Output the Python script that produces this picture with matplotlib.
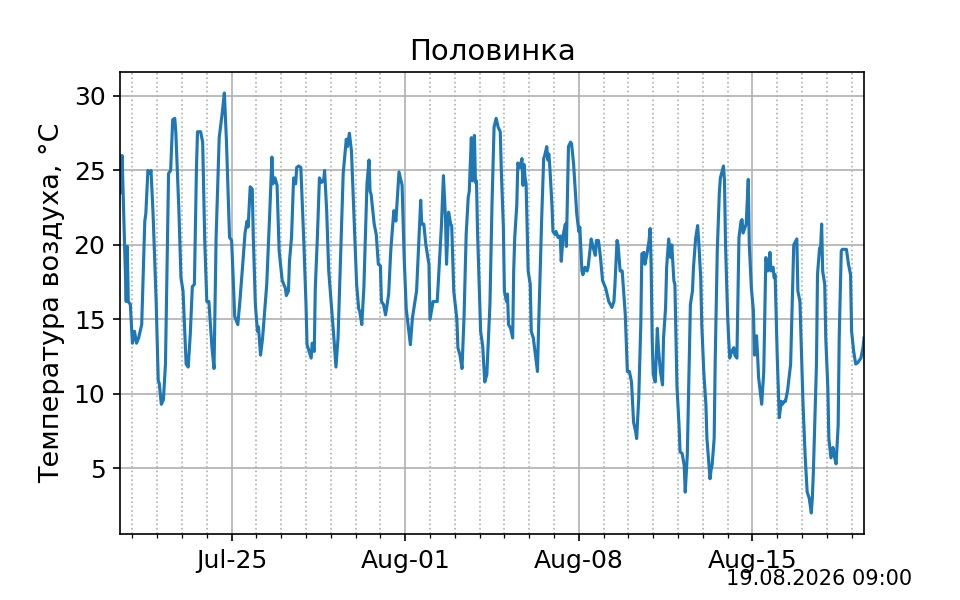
import numpy as np
import pandas as pd
import matplotlib
matplotlib.use('Agg')
import matplotlib.pyplot as plt
import matplotlib.dates as mdates

start = pd.Timestamp('2026-07-20 12:00')

# hours since start and air temperature in four chunks
hours_1 = [0, 2, 6, 7, 8, 10, 12, 14, 16, 18,
           21, 24, 25, 27, 29, 30, 32, 35, 37, 38,
           40, 42, 44, 47, 49, 51, 53, 54, 57, 59,
           61, 64, 66, 68, 70, 72, 74, 75, 78, 80,
           82, 84, 86, 89, 91, 93, 96, 99, 101, 103,
           106, 108, 109, 111, 114, 116, 119, 121, 123, 124,
           126, 128, 129, 131, 133, 134, 136, 138, 142, 145,
           147, 148, 150, 152, 154, 157, 160, 161, 163, 164,
           166, 168, 170, 171, 173, 175]
temp_1 = [23.5, 26.0, 16.2, 19.9, 16.2, 16.0, 13.4, 14.2, 13.4, 13.75,
          14.65, 21.6, 22.1, 25.0, 24.8, 25.0, 22.1, 16.2, 10.9, 10.7,
          9.3, 9.6, 12.0, 24.8, 25.0, 28.4, 28.5, 27.6, 22.3, 17.8,
          16.9, 12.0, 11.8, 14.0, 17.2, 17.35, 25.2, 27.6, 27.6, 26.9,
          20.3, 16.2, 16.2, 13.1, 11.7, 20.5, 27.2, 28.9, 30.2, 27.0,
          20.5, 20.3, 18.7, 15.2, 14.65, 16.2, 18.9, 20.8, 21.6, 21.2,
          23.9, 23.75, 20.5, 16.0, 14.2, 14.5, 12.6, 13.75, 17.35, 22.3,
          25.9, 24.1, 24.5, 24.0, 19.6, 17.6, 17.1, 16.6, 16.9, 18.9,
          20.5, 24.5, 24.1, 25.2, 25.3, 25.2]

hours_2 = [178, 180, 181, 183, 185, 186, 188, 189, 191, 193,
           195, 197, 198, 200, 202, 204, 207, 209, 211, 214,
           216, 219, 220, 222, 224, 227, 229, 231, 232, 234,
           236, 239, 241, 242, 243, 246, 248, 250, 252, 253,
           255, 257, 260, 262, 265, 267, 269, 270, 273, 275,
           277, 278, 281, 283, 285, 287, 289, 291, 292, 294,
           296, 299, 300, 303, 304, 307, 309, 311, 313, 315,
           316, 318, 320, 321, 323, 326, 327, 329, 331, 333,
           335, 337, 338, 340, 341, 343, 344, 345, 346, 349,
           351, 353, 355, 358, 360, 362, 364, 366]
temp_2 = [20.0, 16.0, 13.3, 12.85, 12.4, 13.4, 12.85, 17.1, 20.5, 24.5,
          24.2, 24.3, 25.0, 22.3, 18.25, 16.45, 13.75, 11.8, 13.75, 20.5,
          24.8, 27.1, 26.6, 27.5, 26.3, 20.9, 17.35, 15.7, 15.55, 14.65,
          17.1, 24.1, 25.7, 23.6, 23.4, 21.4, 20.7, 18.7, 18.6, 16.2,
          16.0, 15.3, 16.7, 19.6, 22.3, 21.6, 23.75, 24.9, 24.0, 19.15,
          15.7, 15.1, 13.3, 15.1, 16.0, 16.9, 20.0, 23.0, 21.4, 21.4,
          20.0, 18.7, 15.0, 16.2, 16.2, 16.2, 18.7, 21.2, 24.65, 21.8,
          18.7, 22.2, 21.4, 21.3, 16.9, 15.0, 13.1, 12.6, 11.7, 15.3,
          20.7, 23.2, 23.6, 27.2, 24.3, 27.35, 24.2, 24.3, 20.9, 14.2,
          13.2, 10.8, 11.3, 16.0, 22.7, 27.9, 28.5, 27.9]

hours_3 = [368, 369, 371, 372, 374, 375, 376, 378, 380, 381,
           382, 384, 385, 387, 389, 390, 391, 392, 393, 395,
           397, 398, 400, 402, 404, 405, 408, 410, 411, 413,
           414, 415, 416, 418, 419, 421, 422, 424, 426, 427,
           429, 431, 432, 434, 436, 437, 439, 442, 444, 445,
           447, 448, 450, 452, 453, 456, 458, 460, 461, 463,
           465, 467, 470, 473, 476, 478, 479, 481, 482, 484,
           486, 489, 491, 493, 495, 497, 499, 500, 502, 504,
           505, 507, 508, 510, 512, 513, 514, 515, 516, 518,
           520, 521, 523, 525, 526, 528, 529, 531, 533, 534,
           536, 537, 539]
temp_3 = [27.6, 25.0, 21.2, 16.9, 16.2, 16.7, 14.65, 14.4, 13.75, 18.25,
          20.5, 22.7, 25.5, 25.2, 25.8, 24.0, 25.4, 24.5, 24.1, 18.25,
          17.35, 14.2, 13.75, 12.6, 11.5, 14.2, 21.6, 25.8, 26.0, 26.6,
          25.7, 26.1, 25.2, 22.7, 20.9, 20.7, 20.9, 20.5, 20.6, 18.9,
          20.7, 21.4, 19.9, 26.6, 26.9, 26.8, 25.4, 22.1, 20.9, 21.2,
          18.25, 18.0, 18.5, 18.25, 18.5, 20.4, 19.8, 19.3, 20.3, 20.3,
          19.15, 17.6, 17.1, 16.2, 15.8, 16.2, 17.35, 20.3, 20.0, 18.25,
          18.25, 15.3, 11.5, 11.5, 10.8, 8.1, 7.46, 7.0, 9.7, 14.65,
          19.4, 19.5, 18.7, 19.4, 20.3, 21.1, 18.7, 13.75, 11.3, 10.8,
          14.4, 13.1, 11.5, 10.6, 13.75, 15.8, 18.5, 20.4, 19.15, 20.0,
          17.6, 17.35, 10.5]

hours_4 = [541, 542, 544, 546, 547, 549, 550, 552, 554, 555,
           557, 559, 560, 562, 563, 565, 567, 568, 571, 572,
           573, 575, 576, 578, 580, 581, 584, 585, 586, 588,
           589, 590, 592, 594, 595, 596, 597, 599, 601, 602,
           603, 605, 606, 608, 609, 611, 613, 614, 616, 617,
           618, 621, 623, 625, 627, 628, 629, 630, 632, 633,
           634, 636, 638, 640, 641, 643, 644, 646, 649, 651,
           652, 655, 656, 658, 661, 663, 665, 667, 669, 670,
           671, 674, 675, 677, 678, 679, 680, 682, 683, 685,
           686, 688, 690, 691, 693, 695, 696, 698, 699, 703,
           705, 707, 708, 710, 712, 714, 717, 719, 720]
temp_4 = [7.9, 6.1, 6.0, 5.2, 3.4, 5.9, 9.3, 16.0, 16.9, 18.5,
          20.4, 21.3, 20.3, 17.8, 14.65, 11.4, 9.3, 7.0, 4.3, 4.9,
          5.2, 7.0, 12.2, 19.6, 23.5, 24.5, 25.3, 24.3, 20.0, 15.3,
          13.75, 12.4, 12.85, 13.1, 12.6, 12.5, 12.4, 20.5, 21.6, 21.7,
          20.8, 21.2, 21.4, 24.4, 20.0, 17.1, 15.55, 12.6, 13.9, 12.6,
          11.1, 9.3, 11.5, 19.15, 18.25, 18.7, 19.5, 18.25, 18.5, 17.8,
          18.0, 12.6, 8.4, 9.5, 9.3, 9.5, 9.5, 10.2, 12.0, 17.35,
          20.0, 20.4, 16.9, 16.2, 9.3, 5.9, 3.4, 3.0, 2.0, 3.0,
          4.75, 12.0, 18.0, 19.8, 19.8, 21.4, 18.25, 17.35, 13.75, 10.4,
          7.0, 5.7, 6.4, 5.9, 5.3, 7.9, 13.75, 19.6, 19.7, 19.7,
          18.7, 18.0, 14.2, 12.85, 12.0, 12.1, 12.4, 13.1, 13.75]

hours = np.array(hours_1 + hours_2 + hours_3 + hours_4)
temp = np.array(temp_1 + temp_2 + temp_3 + temp_4)
times = start + pd.to_timedelta(hours, unit='h')

station = 'Половинка'
stamp = '19.08.2026 09:00'

fig, ax = plt.subplots(figsize=(6.4, 4), dpi=150)
ax.plot(times, temp, color='tab:blue', lw=1.5)
ax.set_xlim(times[0], times[-1])
ax.xaxis.set_major_locator(mdates.WeekdayLocator(byweekday=mdates.SA))
ax.xaxis.set_minor_locator(mdates.DayLocator())
ax.xaxis.set_major_formatter(mdates.DateFormatter('%b-%d'))
ax.grid(which='major')
ax.grid(which='minor', axis='x', linestyle=':')
ax.tick_params(labelsize=12)
ax.set_title(station, fontsize=14)
ax.set_ylabel('Температура воздуха, °C', fontsize=13)
fig.text(0.95, 0.025, stamp, ha='right', fontsize=10)
plt.savefig('out.png')
